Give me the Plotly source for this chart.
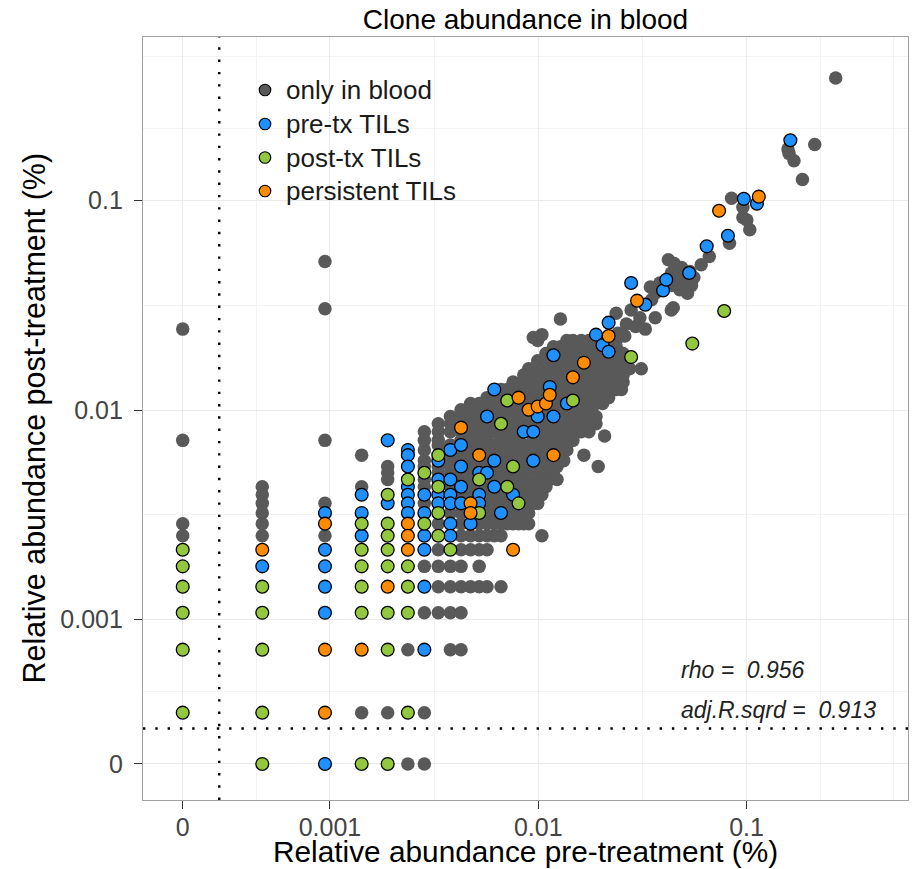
import plotly.graph_objects as go

# ---------------- data (clone counts) ----------------
# counts are (pre-treatment count, post-treatment count); abundance % = count / total * 100
PRE_TOTAL = 211400
POST_TOTAL = 279300

only_in_blood = [
    (0, 68), (0, 20), (0, 8), (0, 7),
    (1, 12), (1, 11), (1, 10), (1, 9), (1, 8), (1, 7),
    (2, 143), (2, 85), (2, 20), (2, 10), (2, 7),
    (3, 17), (3, 12), (3, 1),
    (4, 15), (4, 14), (4, 13), (4, 1),
    (5, 2), (5, 0),
    (6, 22), (6, 20), (6, 18), (6, 16), (6, 15), (6, 13), (6, 12), (6, 10), (6, 5), (6, 3), (6, 1), (6, 0),
    (8, 2), (9, 2),
    (7, 3), (8, 3), (9, 3),
    (7, 4), (8, 4), (9, 4), (10, 4), (11, 4), (12, 4), (14, 4),
    (7, 5), (8, 5), (9, 5), (11, 5),
    (7, 6), (9, 6), (10, 6), (11, 6), (12, 6),
    (9, 7), (10, 7), (11, 7), (12, 7), (13, 7), (14, 7), (22, 7),
    (7, 8), (9, 8), (11, 8), (12, 8), (13, 8), (14, 8), (15, 8), (16, 8), (17, 8), (18, 8), (19, 8),
    (8, 9), (9, 9), (12, 9), (13, 9), (15, 9), (16, 9), (17, 9), (18, 9), (19, 9),
    (12, 10), (13, 10), (14, 10), (15, 10), (16, 10), (18, 10), (19, 10), (20, 10), (21, 10),
    (9, 11), (10, 11), (12, 11), (13, 11), (14, 11), (15, 11), (17, 11), (18, 11), (19, 11), (20, 11), (21, 11), (22, 11),
    (8, 12), (10, 12), (11, 12), (12, 12), (14, 12), (16, 12), (17, 12), (18, 12), (19, 12), (20, 12), (21, 12), (22, 12), (23, 12),
    (9, 13), (10, 13), (12, 13), (13, 13), (14, 13), (15, 13), (16, 13), (17, 13), (18, 13), (19, 13), (20, 13), (21, 13),
    (22, 13), (23, 13), (24, 13), (26, 13),
    (7, 14), (8, 14), (9, 14), (10, 14), (13, 14), (14, 14), (15, 14), (17, 14), (18, 14), (19, 14), (20, 14), (21, 14),
    (22, 14), (23, 14), (24, 14), (25, 14),
    (7, 15), (8, 15), (10, 15), (11, 15), (12, 15), (13, 15), (14, 15), (15, 15), (17, 15), (18, 15), (19, 15), (20, 15),
    (21, 15), (22, 15), (23, 15), (24, 15), (25, 15), (26, 15), (41, 15),
    (8, 16), (9, 16), (10, 16), (11, 16), (12, 16), (14, 16), (15, 16), (16, 16), (17, 16), (18, 16), (19, 16), (21, 16),
    (22, 16), (23, 16), (24, 16), (26, 16), (28, 16),
    (8, 17), (9, 17), (10, 17), (12, 17), (13, 17), (14, 17), (15, 17), (16, 17), (18, 17), (20, 17), (21, 17), (23, 17),
    (25, 17), (27, 17), (35, 17),
    (9, 18), (10, 18), (11, 18), (12, 18), (13, 18), (14, 18), (15, 18), (17, 18), (18, 18), (20, 18), (23, 18), (25, 18),
    (27, 18), (29, 18),
    (7, 19), (8, 19), (10, 19), (11, 19), (12, 19), (13, 19), (14, 19), (16, 19), (18, 19), (20, 19), (21, 19), (23, 19),
    (25, 19), (27, 19), (29, 19),
    (7, 20), (9, 20), (10, 20), (11, 20), (12, 20), (14, 20), (15, 20), (16, 20), (17, 20), (20, 20), (21, 20), (23, 20),
    (25, 20), (27, 20), (29, 20), (31, 20),
    (44, 21),
    (7, 22), (8, 22), (9, 22), (10, 22), (11, 22), (12, 22), (13, 22), (14, 22), (15, 22), (16, 22), (18, 22), (20, 22),
    (21, 22), (23, 22), (25, 22), (27, 22), (29, 22), (31, 22), (34, 22), (37, 22),
    (7, 24), (8, 24), (10, 24), (11, 24), (12, 24), (13, 24), (15, 24), (16, 24), (18, 24), (20, 24), (21, 24), (23, 24),
    (25, 24), (27, 24), (29, 24), (31, 24), (32, 24), (34, 24), (37, 24), (40, 24),
    (8, 26), (9, 26), (10, 26), (11, 26), (13, 26), (14, 26), (15, 26), (16, 26), (18, 26), (20, 26), (23, 26), (27, 26),
    (29, 26), (31, 26), (34, 26), (37, 26), (40, 26),
    (9, 28), (10, 28), (11, 28), (12, 28), (13, 28), (14, 28), (16, 28), (18, 28), (20, 28), (21, 28), (23, 28), (25, 28),
    (27, 28), (29, 28), (31, 28), (34, 28), (37, 28), (38, 28),
    (10, 30), (11, 30), (12, 30), (13, 30), (14, 30), (15, 30), (16, 30), (18, 30), (20, 30), (23, 30), (25, 30), (27, 30),
    (31, 30), (34, 30), (37, 30), (40, 30), (43, 30),
    (12, 32), (13, 32), (14, 32), (16, 32), (18, 32), (20, 32), (21, 32), (23, 32), (25, 32), (27, 32), (29, 32), (31, 32),
    (34, 32), (37, 32), (40, 32), (43, 32), (46, 32),
    (14, 35), (15, 35), (16, 35), (18, 35), (20, 35), (21, 35), (23, 35), (25, 35), (27, 35), (29, 35), (31, 35), (34, 35),
    (37, 35), (40, 35), (43, 35), (46, 35), (50, 35), (53, 35),
    (16, 38), (18, 38), (20, 38), (21, 38), (23, 38), (25, 38), (27, 38), (29, 38), (31, 38), (34, 38), (37, 38), (40, 38),
    (43, 38), (46, 38), (50, 38), (54, 38),
    (18, 41), (20, 41), (21, 41), (23, 41), (25, 41), (27, 41), (29, 41), (31, 41), (34, 41), (37, 41), (40, 41), (43, 41),
    (46, 41), (50, 41), (54, 41),
    (19, 44), (20, 44), (23, 44), (25, 44), (27, 44), (29, 44), (31, 44), (34, 44), (37, 44), (40, 44), (43, 44), (46, 44),
    (50, 44), (54, 44), (58, 44), (66, 44),
    (21, 48), (23, 48), (25, 48), (27, 48), (29, 48), (31, 48), (34, 48), (37, 48), (40, 48), (43, 48), (46, 48), (50, 48),
    (54, 48),
    (23, 52), (25, 52), (27, 52), (29, 52), (31, 52), (34, 52), (37, 52), (40, 52), (43, 52), (46, 52), (50, 52), (54, 52),
    (25, 56), (27, 56), (29, 56), (31, 56), (34, 56), (37, 56), (40, 56), (43, 56), (46, 56), (50, 56),
    (21, 60), (29, 60), (31, 60), (34, 60), (37, 60), (40, 60), (46, 60), (50, 60),
    (20, 62), (22, 64), (55, 63), (51, 65), (27, 76), (56, 72), (62, 70), (59, 84), (65, 77), (69, 68), (77, 77),
    (50, 81), (94, 86), (92, 84), (73, 108), (77, 101), (81, 113), (74, 94),
    (89, 146), (95, 140), (103, 134), (113, 128), (92, 126), (99, 120), (108, 115), (115, 110), (101, 105), (92, 110),
    (110, 101), (118, 120), (140, 151), (128, 138),
    (179, 287), (203, 260), (203, 232), (212, 226), (219, 203), (175, 175),
    (334, 493), (338, 469), (357, 433), (449, 518), (392, 353), (566, 1076),
]

pre_tx_tils = [
    (2, 0), (1, 5), (2, 9), (2, 6), (2, 5), (2, 4), (2, 3), (3, 11), (3, 9), (3, 7), (4, 20), (4, 10),
    (5, 18), (5, 17), (5, 15), (5, 12), (5, 11), (5, 10), (5, 9), (6, 11), (6, 9), (6, 7), (6, 6), (6, 4), (6, 2),
    (7, 16), (7, 13), (7, 11), (7, 10), (8, 18), (8, 13), (8, 11), (8, 10), (8, 8), (8, 7),
    (9, 19), (9, 15), (9, 12), (9, 10), (10, 8), (11, 14), (11, 11), (11, 10), (12, 14), (12, 26),
    (13, 35), (13, 16), (13, 12), (14, 9), (16, 11), (18, 22), (20, 22), (20, 16), (21, 26), (25, 26),
    (24, 36), (25, 51), (29, 30), (40, 64), (46, 73), (43, 57), (46, 53), (59, 113), (69, 89), (84, 104),
    (87, 117), (112, 126), (136, 169), (172, 190), (205, 285), (237, 270), (343, 543),
]

post_tx_tils = [
    (0, 6), (0, 5), (0, 4), (0, 3), (0, 2), (0, 1), (1, 4), (1, 3), (1, 2), (1, 1), (1, 0),
    (3, 8), (3, 6), (3, 5), (3, 4), (3, 3), (3, 0), (4, 11), (4, 8), (4, 7), (4, 6), (4, 5), (4, 3), (4, 2), (4, 0),
    (5, 13), (5, 5), (5, 4), (5, 3), (5, 1), (6, 14), (6, 8), (7, 17), (7, 12), (7, 9), (7, 7), (8, 6),
    (11, 13), (11, 9), (14, 24), (15, 31), (15, 12), (16, 15), (17, 10), (31, 31), (59, 50), (116, 58), (165, 83),
]

persistent_tils = [
    (1, 6), (2, 8), (2, 2), (2, 1), (3, 2), (4, 4), (5, 8), (5, 7), (5, 6), (9, 23), (10, 10), (10, 9),
    (11, 17), (16, 6), (17, 32), (19, 28), (21, 29), (23, 30), (24, 33), (25, 17), (31, 40), (35, 47),
    (46, 63), (63, 93), (156, 250), (242, 292),
]

series_names = ["only in blood", "pre-tx TILs", "post-tx TILs", "persistent TILs"]
series_colors = ["#595959", "#1e90ff", "#93c83e", "#ff8c00"]

tick_text = ["0", "0.001", "0.01", "0.1"]
rho_text = "rho =  0.956"
r2_text = "adj.R.sqrd =  0.913"

# ---------------- axis helpers ----------------
ZERO_X = 10 ** -3.707   # where a zero abundance is drawn on the log x axis
ZERO_Y = 10 ** -3.691
LIMIT_X = 0.000294      # dotted reference lines
LIMIT_Y = 0.000301
X_RANGE = [-3.8977, -0.2251]
Y_RANGE = [-3.8633, -0.2179]

# plot panel in pixels (for placing texts in paper coordinates)
PL, PR, PT, PB = 143, 908, 37, 800
PW, PH = PR - PL, PB - PT


def px(x):
    return (x - PL) / PW


def py(y):
    return (PB - y) / PH


def to_pct(count, total, zero):
    return count * 100.0 / total if count > 0 else zero


fig = go.Figure()

# dotted reference lines
fig.add_trace(go.Scatter(x=[LIMIT_X, LIMIT_X], y=[10 ** Y_RANGE[0], 10 ** Y_RANGE[1]], mode="lines",
                         line=dict(color="black", width=2.4, dash="2.4px,9.9px"),
                         showlegend=False, hoverinfo="skip"))
fig.add_trace(go.Scatter(x=[10 ** X_RANGE[0], 10 ** X_RANGE[1]], y=[LIMIT_Y, LIMIT_Y], mode="lines",
                         line=dict(color="black", width=2.4, dash="2.4px,9.9px"),
                         showlegend=False, hoverinfo="skip"))

for name, color, pts in zip(series_names, series_colors,
                            [only_in_blood, pre_tx_tils, post_tx_tils, persistent_tils]):
    xs = [to_pct(p, PRE_TOTAL, ZERO_X) for p, q in pts]
    ys = [to_pct(q, POST_TOTAL, ZERO_Y) for p, q in pts]
    if name == "only in blood":
        marker = dict(size=13.5, color=color, line=dict(width=0))
    else:
        marker = dict(size=12.8, color=color, line=dict(width=1.3, color="black"))
    fig.add_trace(go.Scatter(x=xs, y=ys, mode="markers", name=name, marker=marker, showlegend=False))

# legend keys, drawn on an invisible overlay axis spanning the panel (0..1)
legend_rows_px = [90, 124, 157.5, 191]
fig.add_trace(go.Scatter(
    x=[px(265)] * 4, y=[py(v) for v in legend_rows_px], xaxis="x2", yaxis="y2",
    mode="markers", showlegend=False, hoverinfo="skip",
    marker=dict(size=11.5, color=series_colors, line=dict(width=1.2, color="black")),
))

x_minor = [10 ** ((-3.707 - 3) / 2), 10 ** -2.5, 10 ** -1.5, 10 ** (-1 + 0.707 / 2), 10 ** (-1 + 0.707)]
y_minor = [10 ** ((-3.691 - 3) / 2), 10 ** -2.5, 10 ** -1.5, 10 ** (-1 + 0.691 / 2), 10 ** (-1 + 0.691)]

axis_common = dict(
    type="log", tickmode="array", ticktext=tick_text,
    ticks="outside", ticklen=8, tickwidth=1.2, tickcolor="#333333",
    showline=True, linecolor="#a0a0a0", linewidth=1.3, mirror=True,
    showgrid=True, gridcolor="#ebebeb", gridwidth=1.2, zeroline=False,
    tickfont=dict(size=25, color="#444444"), automargin=False,
)

annotations = [
    dict(text="Relative abundance pre-treatment (%)", xref="paper", yref="paper",
         x=0.5, y=py(852), xanchor="center", yanchor="middle", showarrow=False,
         font=dict(size=29.8, color="black")),
    dict(text="Relative abundance post-treatment (%)", xref="paper", yref="paper",
         x=px(34), y=0.5, xanchor="center", yanchor="middle", showarrow=False,
         textangle=-90, font=dict(size=30.5, color="black")),
    dict(text=rho_text, xref="paper", yref="paper", x=px(679), y=py(670),
         xanchor="left", yanchor="middle", showarrow=False,
         font=dict(size=23, color="#222222", style="italic")),
    dict(text=r2_text, xref="paper", yref="paper", x=px(679), y=py(710),
         xanchor="left", yanchor="middle", showarrow=False,
         font=dict(size=23, color="#222222", style="italic")),
]
for name, ypx in zip(series_names, legend_rows_px):
    annotations.append(dict(text=name, xref="paper", yref="paper", x=px(284), y=py(ypx),
                            xanchor="left", yanchor="middle", showarrow=False,
                            font=dict(size=26, color="#1a1a1a")))

fig.update_layout(
    width=912, height=869,
    margin=dict(l=PL, r=912 - PR, t=PT, b=869 - PB),
    paper_bgcolor="white", plot_bgcolor="white",
    font=dict(family="Liberation Sans, Arial, sans-serif", color="black"),
    title=dict(text="Clone abundance in blood", x=0.5, xref="paper", xanchor="center",
               y=1 - 19 / 869, yref="container", yanchor="middle",
               font=dict(size=28, color="black")),
    xaxis=dict(range=X_RANGE, tickvals=[ZERO_X, 1e-3, 1e-2, 1e-1], ticklabelstandoff=-3,
               minor=dict(tickmode="array", tickvals=x_minor, showgrid=True, gridcolor="#f3f3f3",
                          gridwidth=0.8, ticks=""),
               **axis_common),
    yaxis=dict(range=Y_RANGE, tickvals=[ZERO_Y, 1e-3, 1e-2, 1e-1], ticklabelstandoff=6,
               minor=dict(tickmode="array", tickvals=y_minor, showgrid=True, gridcolor="#f3f3f3",
                          gridwidth=0.8, ticks=""),
               **axis_common),
    xaxis2=dict(overlaying="x", anchor="y2", range=[0, 1], visible=False, fixedrange=True),
    yaxis2=dict(overlaying="y", anchor="x2", range=[0, 1], visible=False, fixedrange=True),
    showlegend=False,
    shapes=[dict(type="rect", xref="paper", yref="paper", x0=px(242), x1=px(470), y0=py(215), y1=py(62),
                 fillcolor="white", line=dict(width=0), layer="between")],
    annotations=annotations,
)

fig.write_html("out.html", config={"displayModeBar": False},
               post_script="document.body.style.margin='0';document.body.style.overflow='hidden';")
